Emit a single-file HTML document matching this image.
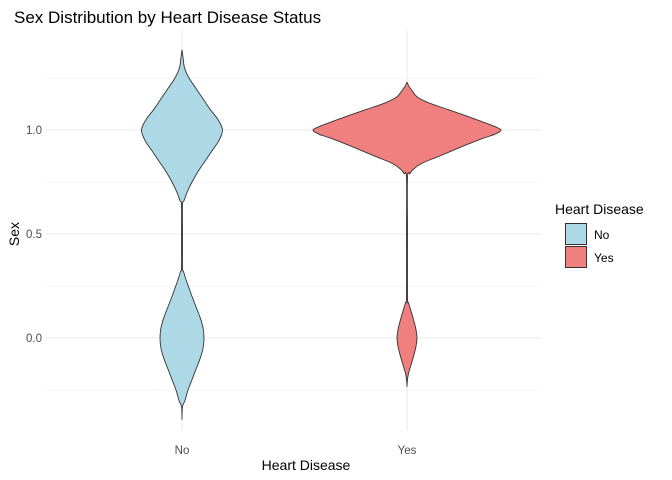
<!DOCTYPE html>
<html><head><meta charset="utf-8"><style>
body{margin:0;background:#fff}
svg{display:block;font-family:"Liberation Sans",Arial,sans-serif}
</style></head><body>
<svg id="chart" width="672" height="480" viewBox="0 0 672 480">
<text x="14" y="23" font-size="17" fill="#000">Sex Distribution by Heart Disease Status</text>
<g id="grid"></g>
<g id="violins"></g>
<g id="axes"></g>
<text x="306" y="470" font-size="14" text-anchor="middle">Heart Disease</text>
<text transform="translate(19,234) rotate(-90)" font-size="14" text-anchor="middle">Sex</text>
<g>
<text x="555" y="214" font-size="14">Heart Disease</text>
<g><rect x="565.5" y="223.5" width="21" height="21" fill="#ADD8E6" stroke="#333" stroke-width="1"/><text x="594" y="239" font-size="12">No</text></g>
<g><rect x="565.5" y="246.5" width="21" height="21" fill="#F08080" stroke="#333" stroke-width="1"/><text x="594" y="262" font-size="12">Yes</text></g>
</g>
</svg>
<script>
const categories = ["No", "Yes"];
const colors = ["#ADD8E6", "#F08080"];
const yTicks = [0.0, 0.5, 1.0];
const yTickLabels = ["0.0", "0.5", "1.0"];
const yMinor = [-0.25, 0.25, 0.75, 1.25];
// density profiles: y values and half-widths (relative density)
const noY =    [1.385,1.35,1.3,1.25,1.2,1.15,1.1,1.05,1.0,0.95,0.9,0.85,0.8,0.75,0.7,0.66,0.64,0.5,0.34,0.32,0.28,0.24,0.2,0.15,0.1,0.05,0.0,-0.05,-0.1,-0.15,-0.2,-0.25,-0.3,-0.33,-0.385];
const noDens = [0,    1,   2.5,7,   14, 21,  28, 36,  40.5,37, 30, 23,  16, 10,  5,  2,   0.5, 0.5,0.5,1.5, 4,   7,  10, 14,  18, 21,  22, 21,  18,  14,  10, 6,    3,   0.5, 0];
const yesY =    [1.23,1.21,1.19,1.16,1.13,1.1,1.07,1.04,1.02,1.0,0.98,0.96,0.93,0.9,0.87,0.84,0.81,0.79,0.77,0.5,0.2,0.17,0.13,0.08,0.04,0.0,-0.04,-0.08,-0.13,-0.17,-0.2,-0.23];
const yesDens = [0,   2,   5,   10,  22,  40, 58,  75,  86,  94, 88,  76,  60,  45, 30,  15,  6,   3,   0.5, 0.5,0.5,1.5, 4,   7,   9,  10, 9,    7,    4,    1.5,  0.5, 0];

(function(){
const NS = 'http://www.w3.org/2000/svg';
const pLeft = 46, pRight = 542, pTop = 30, pBottom = 430;
const xCenter = i => 182 + i * 225;
const yScale = v => 338 - v * 208;
const wScale = d => d;

function mk(tag, attrs, parent) {
  const e = document.createElementNS(NS, tag);
  for (const k in attrs) e.setAttribute(k, attrs[k]);
  parent.appendChild(e);
  return e;
}
const grid = document.getElementById('grid');
yMinor.forEach(v => {
  const l = mk('line', {x1:pLeft, x2:pRight, y1:yScale(v), y2:yScale(v), stroke:'#EBEBEB', 'stroke-width':0.6}, grid);
  
  
});
yTicks.forEach(v => {
  const l = mk('line', {x1:pLeft, x2:pRight, y1:yScale(v), y2:yScale(v), stroke:'#EBEBEB', 'stroke-width':1.1}, grid);
  
  
});
categories.forEach((c, i) => {
  const l = mk('line', {x1:xCenter(i), x2:xCenter(i), y1:pTop, y2:pBottom, stroke:'#EBEBEB', 'stroke-width':1.1}, grid);
  
  
});
const axes = document.getElementById('axes');
yTicks.forEach((v, i) => {
  const t = mk('text', {x:42, y:yScale(v)+4, 'font-size':11.5, fill:'#4D4D4D', 'text-anchor':'end'}, axes);
  t.textContent = yTickLabels[i];
  
  
});
categories.forEach((c, i) => {
  const t = mk('text', {x:xCenter(i), y:454, 'font-size':11.5, fill:'#4D4D4D', 'text-anchor':'middle'}, axes);
  t.textContent = c;
  
  
});
const vg = document.getElementById('violins');
[[noY, noDens], [yesY, yesDens]].forEach(([ys, ds], i) => {
  const cx = xCenter(i);
  const rightPts = ys.map((y, k) => [cx + wScale(ds[k]), yScale(y)]);
  const leftPts = ys.map((y, k) => [cx - wScale(ds[k]), yScale(y)]).reverse();
  const pts = rightPts.concat(leftPts);
  let d = 'M' + pts[0][0] + ',' + pts[0][1];
  for (let k = 0; k < pts.length - 1; k++) {
    const p0 = pts[Math.max(k-1,0)], p1 = pts[k], p2 = pts[k+1], p3 = pts[Math.min(k+2, pts.length-1)];
    const c1 = [p1[0] + (p2[0]-p0[0])/6, p1[1] + (p2[1]-p0[1])/6];
    const c2 = [p2[0] - (p3[0]-p1[0])/6, p2[1] - (p3[1]-p1[1])/6];
    d += ' C' + c1.join(',') + ' ' + c2.join(',') + ' ' + p2.join(',');
  }
  d += 'Z';
  const p = mk('path', {d:d, fill:colors[i], stroke:'#333', 'stroke-width':0.9, 'stroke-linejoin':'round'}, vg);
  
  
});
})();
</script>
</body></html>
